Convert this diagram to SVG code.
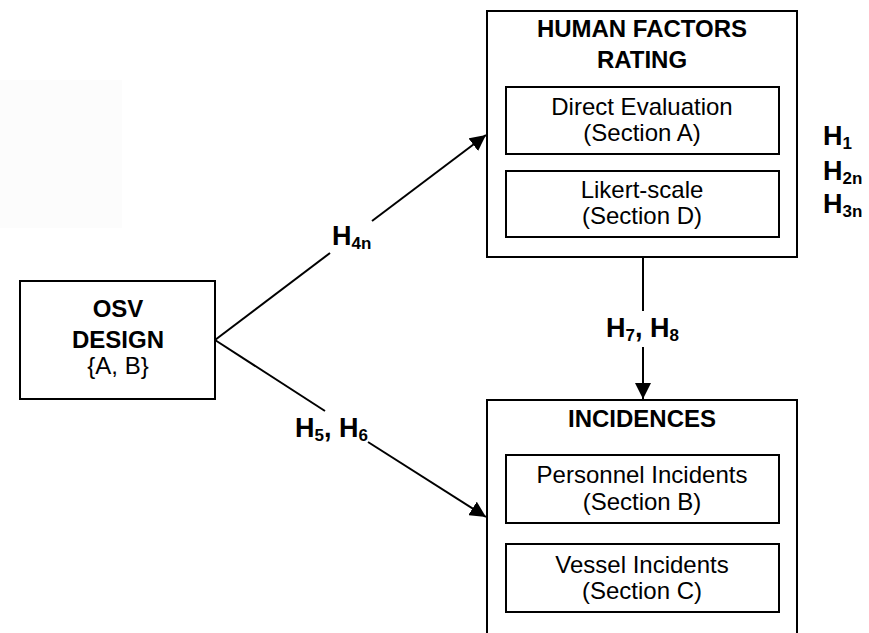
<svg xmlns="http://www.w3.org/2000/svg" width="869" height="633" viewBox="0 0 869 633">
<style>
.box{fill:#fff;stroke:#000;stroke-width:2}
.t{font-family:"Liberation Sans",Arial,sans-serif;font-size:24px;fill:#000;text-anchor:middle}
.b{font-weight:bold}
.h{font-family:"Liberation Sans",Arial,sans-serif;font-size:27px;font-weight:bold;fill:#000}
.s{font-size:17px}
.ln{stroke:#000;stroke-width:2;fill:none}
</style>
<defs>
<marker id="ah2" markerWidth="16" markerHeight="16" refX="16" refY="8" orient="auto" markerUnits="userSpaceOnUse" viewBox="0 0 16 16">
<path d="M0,0 L16,8 L0,16 Z" fill="#000"/>
</marker>
</defs>
<rect width="869" height="633" fill="#fff"/>
<rect x="0" y="80" width="122" height="148" fill="#fcfcfc"/>

<g id="connectors">
<line class="ln" x1="215" y1="340" x2="330" y2="253"/>
<line class="ln" x1="372" y1="221" x2="486" y2="135" marker-end="url(#ah2)"/>
<line class="ln" x1="215" y1="340" x2="325" y2="411"/>
<line class="ln" x1="368" y1="442" x2="486" y2="517" marker-end="url(#ah2)"/>
<line class="ln" x1="643" y1="257" x2="643" y2="311"/>
<line class="ln" x1="643" y1="347" x2="643" y2="399" marker-end="url(#ah2)"/>
<text class="h" x="332" y="245">H<tspan class="s" dy="4">4n</tspan></text>
<text class="h" x="295" y="437">H<tspan class="s" dy="4">5</tspan><tspan dy="-4">, H</tspan><tspan class="s" dy="4">6</tspan></text>
<text class="h" x="606" y="337">H<tspan class="s" dy="4">7</tspan><tspan dy="-4">, H</tspan><tspan class="s" dy="4">8</tspan></text>
</g>

<g id="osv">
<rect class="box" x="20" y="281" width="195" height="118"/>
<text class="t b" x="118" y="317">OSV</text>
<text class="t b" x="118" y="348">DESIGN</text>
<text class="t" x="118" y="374">{A, B}</text>
</g>

<g id="human-factors">
<rect class="box" x="487" y="11" width="310" height="246"/>
<text class="t b" x="642" y="37">HUMAN FACTORS</text>
<text class="t b" x="642" y="68">RATING</text>
<g id="direct-eval">
<rect class="box" x="506" y="87" width="273" height="67"/>
<text class="t" x="642" y="115">Direct Evaluation</text>
<text class="t" x="642" y="141">(Section A)</text>
</g>
<g id="likert">
<rect class="box" x="506" y="171" width="273" height="66"/>
<text class="t" x="642" y="198">Likert-scale</text>
<text class="t" x="642" y="224">(Section D)</text>
</g>
</g>

<g id="hypotheses">
<text class="h" x="823" y="145">H<tspan class="s" dy="4">1</tspan></text>
<text class="h" x="823" y="180">H<tspan class="s" dy="4">2n</tspan></text>
<text class="h" x="823" y="213">H<tspan class="s" dy="4">3n</tspan></text>
</g>

<g id="incidences">
<rect class="box" x="487" y="400" width="310" height="250"/>
<text class="t b" x="642" y="427">INCIDENCES</text>
<g id="personnel">
<rect class="box" x="506" y="455" width="273" height="68"/>
<text class="t" x="642" y="483">Personnel Incidents</text>
<text class="t" x="642" y="510">(Section B)</text>
</g>
<g id="vessel">
<rect class="box" x="506" y="544" width="273" height="68"/>
<text class="t" x="642" y="573">Vessel Incidents</text>
<text class="t" x="642" y="599">(Section C)</text>
</g>
</g>
</svg>
